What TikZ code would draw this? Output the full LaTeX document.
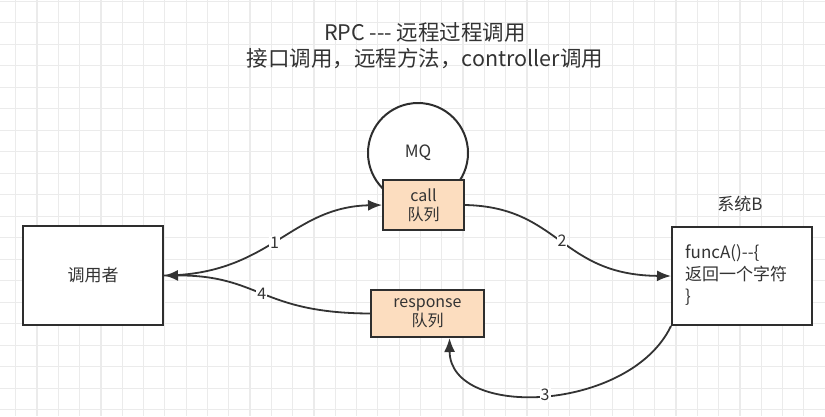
\documentclass[tikz,border=0pt]{standalone}
\usepackage{fontspec}
\setmainfont{Noto Sans CJK SC}[Ligatures=TeXOff]
\usetikzlibrary{arrows.meta,calc}
\definecolor{txt}{HTML}{333333}
\definecolor{qfill}{HTML}{FCDDBF}
\definecolor{gridc}{HTML}{EBEBEB}
\tikzset{
  box/.style={draw=txt!90!black, line width=2pt, fill=white, inner sep=0pt, text=txt},
  qbox/.style={draw=txt!90!black, line width=2pt, fill=qfill, inner sep=0pt, text=txt, align=center, font=\fontsize{16}{19}\selectfont},
  conn/.style={draw=txt, line width=1.8pt, -{Latex[length=14pt,width=11pt]}},
  lbl/.style={fill=white, inner sep=1pt, text=txt, font=\fontsize{16}{18}\selectfont},
}
\begin{document}
\begin{tikzpicture}[x=1pt,y=-1pt]
\useasboundingbox (0,0) rectangle (825,416);
\fill[white] (0,0) rectangle (825,416);
% grid
\foreach \i in {0,...,38} {\draw[gridc, line width=1.2pt] ({15.7+21.3*\i},0) -- ({15.7+21.3*\i},416);}
\foreach \j in {0,...,19} {\draw[gridc, line width=1.2pt] (0,{1.3+21.5*\j}) -- (825,{1.3+21.5*\j});}
% title
\node[text=txt, align=center, font=\fontsize{21.5}{26}\selectfont] (title) at (425,46) {RPC {-}{-}{-} 远程过程调用\\接口调用，远程方法，controller调用};
% MQ
\node[circle, draw=txt!90!black, line width=2pt, fill=white, minimum size=100pt, inner sep=0pt, text=txt, font=\fontsize{17}{20}\selectfont] (mq) at (418,153) {MQ};
\node[qbox, minimum width=81pt, minimum height=50pt] (call) at (423.5,205) {call\\队列};
\node[qbox, minimum width=113pt, minimum height=47pt] (resp) at (427.5,313.5) {response\\队列};
% boxes
\node[box, minimum width=140pt, minimum height=99pt, font=\fontsize{17}{20}\selectfont] (caller) at (93,275.5) {调用者};
\node[box, minimum width=140pt, minimum height=98pt] (sysb) at (742,276) {};
\node[text=txt, anchor=north west, align=left, inner sep=0pt, font=\fontsize{17}{22}\selectfont] (code) at (685,244) {funcA(){-}{-}\{\\返回一个字符\\\}};
\node[text=txt, font=\fontsize{17}{20}\selectfont] (sysbl) at (740,204) {系统B};
\coordinate (r3) at ($(resp.south)+(22,0)$);
% connectors
\draw[conn] (caller.east) .. controls (270,275) and (290,207) .. (call.west) node[lbl, pos=0.48] {1};
\draw[conn] (call.east) .. controls (560,207) and (560,275) .. (sysb.west) node[lbl, pos=0.5] {2};
\draw[conn] (sysb.south west) .. controls (630,412) and (450,420) .. (r3) node[lbl, pos=0.5] {3};
\draw[conn] (resp.west) .. controls (260,313) and (260,275) .. (caller.east) node[lbl, pos=0.5] {4};
\end{tikzpicture}
\end{document}
